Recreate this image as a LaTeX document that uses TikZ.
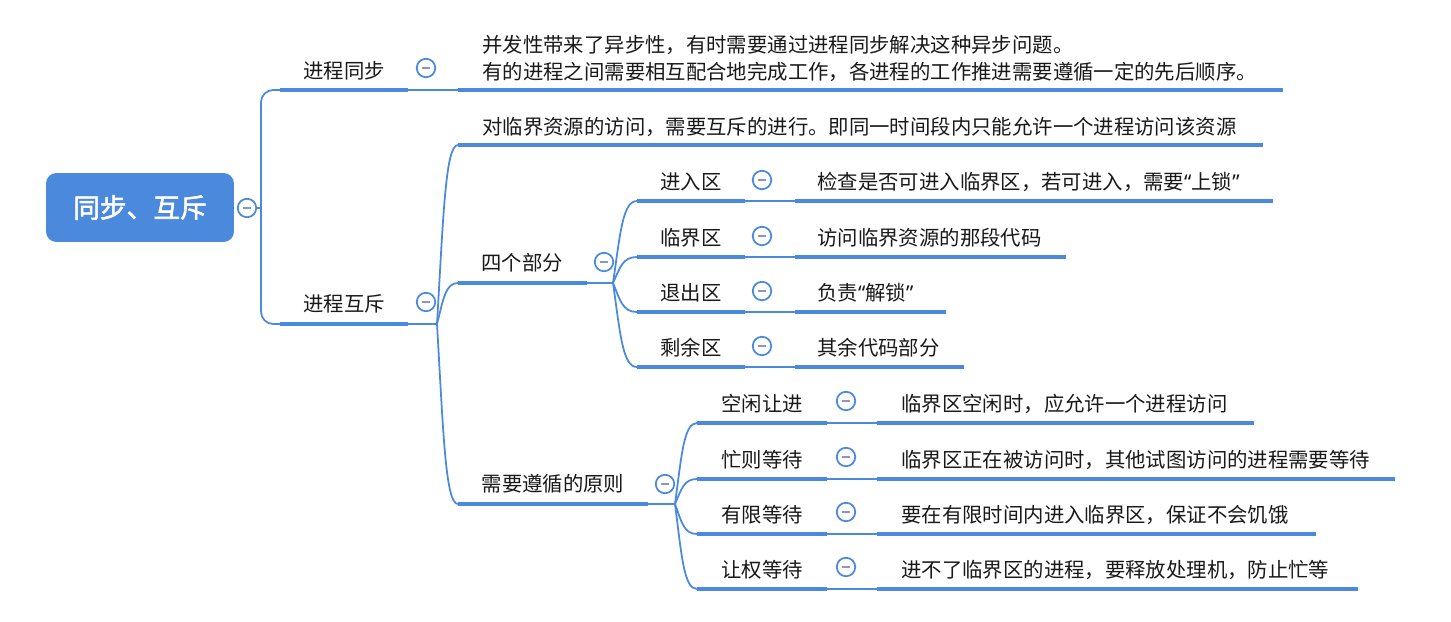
\documentclass[tikz,border=0pt]{standalone}
\usepackage{fontspec}
\setmainfont{Noto Sans CJK SC}[AutoFakeBold=2]
\newfontfamily\quotefont{Noto Sans}
\newcommand\mapql{{\quotefont “}}
\newcommand\mapqr{{\quotefont ”}}
\usetikzlibrary{calc}
\definecolor{mapblue}{RGB}{74,137,220}
\definecolor{minusgray}{RGB}{140,150,190}
\definecolor{textdark}{RGB}{25,25,25}

\begin{document}
\begin{tikzpicture}[x=0.02cm,y=-0.02cm,font=\fontsize{11.6}{15.3}\selectfont,text=textdark,
  bar/.style={mapblue,line width=2.8pt},
  link/.style={mapblue,line width=1pt},
  lbl/.style={inner sep=0pt},
  root/.style={fill=mapblue,rounded corners=6pt,minimum width=3.76cm,minimum height=1.38cm,
    text=white,font=\fontsize{15.2}{18}\selectfont\bfseries},
  fold/.style={circle,draw=mapblue,fill=white,line width=1pt,minimum size=0.37cm,inner sep=0pt,
    path picture={\draw[minusgray,line width=0.9pt] ([xshift=-2.4pt]path picture bounding box.center)
      -- ([xshift=2.4pt]path picture bounding box.center);}},
  fan/.style={to path={let \p1=(\tikztostart),\p2=(\tikztotarget) in
    .. controls ({\x1+0.3*(\x2-\x1)},{\y1+0.6*(\y2-\y1)}) and ({\x1+0.4*(\x2-\x1)},\y2) .. (\tikztotarget)}}]
\path[fill=white] (0,0) rectangle (1451,622);
\useasboundingbox (0,0) rectangle (1451,622);

% root
\node[root] (root) at (140,207.5) {同步、互斥};
\node[fold] (rootfold) at (247,208) {};
\coordinate (rootj) at (261,208);

% process sync
\node[lbl] (sync) at (344,71) {进程同步};
\draw[bar] (280,90) coordinate (syncL) -- (408,90) coordinate (syncR);
\node[fold] (syncfold) at (426,68) {};
\draw[link] (syncR) -- (458,90) coordinate (syncdL);
\draw[bar] (syncdL) -- (1283,90);
\node[lbl,anchor=west,align=left] (syncd) at (482,58.5)
  {并发性带来了异步性，有时需要通过进程同步解决这种异步问题。\\有的进程之间需要相互配合地完成工作，各进程的工作推进需要遵循一定的先后顺序。};

% process mutex
\node[lbl] (mutex) at (344,304) {进程互斥};
\draw[bar] (280,324) coordinate (mutexL) -- (408,324) coordinate (mutexR);
\node[fold] (mutexfold) at (426,302) {};
\draw[link] (mutexR) -- (437,324) coordinate (mutexj);

\draw[link] (rootfold) -- (rootj);
\draw[link,rounded corners=7pt] (syncL) -| (rootj) |- (mutexL);

% mutex details
\draw[bar] (458,145) coordinate (critL) -- (1263,145);
\node[lbl,anchor=west] (crit) at (482,127) {对临界资源的访问，需要互斥的进行。即同一时间段内只能允许一个进程访问该资源};
\draw[link] (mutexj) to[fan] (critL);

% four parts
\node[lbl] (parts) at (522,263) {四个部分};
\draw[bar] (458,283) coordinate (partsL) -- (587,283) coordinate (partsR);
\node[fold] (partsfold) at (604,262) {};
\draw[link] (partsR) -- (613,283) coordinate (partsj);
\draw[link] (mutexj) to[fan] (partsL);
\foreach \k/\y/\t/\d/\e in {a/201/进入区/检查是否可进入临界区，若可进入，需要\mapql 上锁\mapqr/1273,
  b/257/临界区/访问临界资源的那段代码/1066, c/312/退出区/负责\mapql 解锁\mapqr/946, d/367/剩余区/其余代码部分/964}{
  \node[lbl] (part\k) at (691,\y-19) {\t};
  \draw[bar] (637,\y) coordinate (part\k L) -- (745,\y) coordinate (part\k R);
  \node[fold] (part\k fold) at (762,\y-21) {};
  \draw[link] (part\k R) -- (795,\y) coordinate (partd\k L);
  \draw[bar] (partd\k L) -- (\e,\y);
  \node[lbl,anchor=west] (partd\k) at (817,\y-19) {\d};
  \draw[link] (partsj) to[fan] (part\k L);
}

% rules
\node[lbl] (rules) at (553,484) {需要遵循的原则};
\draw[bar] (458,504) coordinate (rulesL) -- (648,504) coordinate (rulesR);
\node[fold] (rulesfold) at (665,484) {};
\draw[link] (rulesR) -- (675,504) coordinate (rulesj);
\draw[link] (mutexj) to[fan] (rulesL);
\foreach \k/\y/\t/\d/\e in {a/423/空闲让进/临界区空闲时，应允许一个进程访问/1254,
  b/479/忙则等待/临界区正在被访问时，其他试图访问的进程需要等待/1395,
  c/534/有限等待/要在有限时间内进入临界区，保证不会饥饿/1316,
  d/589/让权等待/进不了临界区的进程，要释放处理机，防止忙等/1358}{
  \node[lbl] (rule\k) at (762,\y-19) {\t};
  \draw[bar] (697,\y) coordinate (rule\k L) -- (827,\y) coordinate (rule\k R);
  \node[fold] (rule\k fold) at (846,\y-22) {};
  \draw[link] (rule\k R) -- (877,\y) coordinate (ruled\k L);
  \draw[bar] (ruled\k L) -- (\e,\y);
  \node[lbl,anchor=west] (ruled\k) at (901,\y-19) {\d};
  \draw[link] (rulesj) to[fan] (rule\k L);
}
\end{tikzpicture}
\end{document}
